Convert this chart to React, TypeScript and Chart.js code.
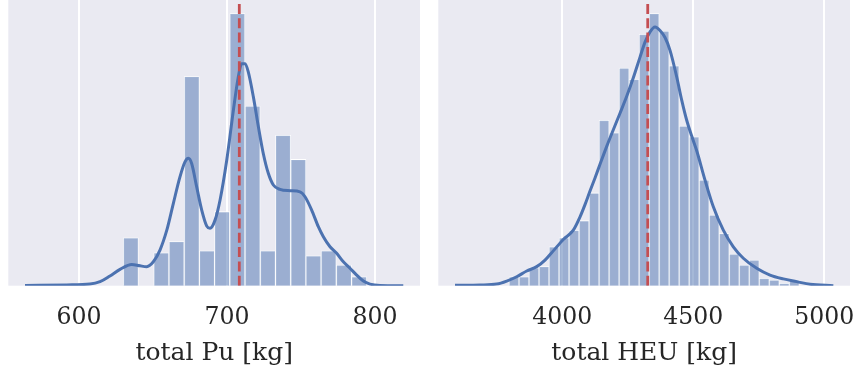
import React, { useEffect, useRef } from "react";
import { Chart, registerables } from "chart.js";

Chart.register(...registerables);

// ---------- Pu panel ----------
const puBinCenters = [635.0, 645.3, 655.6, 665.9, 676.2, 686.5, 696.7, 707.0, 717.3, 727.6, 737.9, 748.2, 758.4, 768.7, 779.0, 789.3];
const puHeights = [17.6, 0, 12.1, 16.2, 76.9, 12.8, 27.2, 100, 66.0, 12.8, 55.3, 46.4, 11.0, 12.8, 7.6, 3.3];
const puKdeX = [563.5, 591.7, 607.4, 614.2, 620.9, 627.7, 635.6, 641.2, 645.7, 650.2, 654.7, 659.3, 663.7, 668.2, 671.6, 673.9, 676.1, 679.5, 682.9, 686.3, 688.5, 691.9, 695.3, 699.8, 704.3, 707.6, 709.9, 712.2, 714.4, 717.8, 721.2, 724.5, 727.9, 731.3, 735.8, 742.6, 749.3, 752.7, 757.2, 761.7, 765.1, 769.6, 774.1, 778.6, 783.1, 787.6, 792.1, 796.6, 803.4, 819.1];
const puKdeY = [0.1, 0.3, 0.6, 1.5, 3.6, 6.0, 7.8, 7.3, 7.0, 8.8, 13.1, 20.4, 30.2, 40.0, 45.5, 46.8, 44.9, 36.3, 27.8, 21.9, 21.1, 24.1, 31.5, 46.1, 64.5, 76.7, 81.6, 81.6, 78.5, 69.4, 58.4, 48.6, 41.3, 37.0, 35.4, 34.9, 34.5, 32.7, 27.8, 21.7, 18.0, 14.3, 11.9, 8.8, 6.4, 3.9, 1.7, 0.6, 0.1, 0];
const puMean = 708.3;
const puTicks = [600, 700, 800];
const puRange = [552.2, 830.4];
const puLabel = "total Pu [kg]";

// ---------- HEU panel ----------
const heuBinCenters = [3815.7, 3853.9, 3892.1, 3930.3, 3968.5, 4006.7, 4044.9, 4083.1, 4121.3, 4159.5, 4197.7, 4235.9, 4274.1, 4312.3, 4350.5, 4388.7, 4426.9, 4465.1, 4503.3, 4541.5, 4579.7, 4617.9, 4656.1, 4694.3, 4732.5, 4770.7, 4808.9, 4847.1, 4885.3];
const heuHeights = [3.3, 3.3, 6.6, 7.0, 14.3, 17.6, 20.4, 23.9, 34.1, 60.8, 56.2, 80.0, 75.9, 92.4, 100, 93.6, 80.8, 58.7, 54.7, 38.8, 26.0, 19.2, 11.6, 7.6, 9.4, 2.7, 2.1, 0.9, 2.1];
const heuKdeX = [3590.4, 3685.9, 3749.6, 3787.8, 3825.9, 3864.1, 3902.3, 3934.0, 3965.6, 4003.8, 4042.0, 4067.6, 4086.6, 4105.7, 4124.8, 4143.9, 4169.5, 4194.7, 4220.2, 4245.8, 4271.0, 4296.6, 4315.7, 4334.7, 4353.8, 4372.9, 4392.0, 4411.1, 4436.7, 4455.7, 4474.8, 4493.9, 4513.0, 4544.7, 4576.4, 4614.5, 4652.7, 4690.9, 4742.0, 4792.8, 4843.6, 4894.7, 4945.5, 5034.4];
const heuKdeY = [0.15, 0.26, 0.6, 1.7, 3.3, 5.4, 7.0, 9.4, 12.8, 17.0, 20.4, 25.3, 29.8, 34.8, 39.6, 44.6, 51.2, 57.3, 63.4, 69.6, 76.4, 84.0, 89.5, 93.3, 95.1, 93.8, 91.2, 86.5, 76.7, 68.2, 60.8, 55.0, 49.6, 38.8, 29.0, 20.4, 14.3, 10.1, 6.4, 3.9, 2.5, 1.5, 0.5, 0];
const heuMean = 4326;
const heuTicks = [4000, 4500, 5000];
const heuRange = [3526.7, 5098];
const heuLabel = "total HEU [kg]";

const Y_MAX = 105;
const CANVAS_H = 374;
const PLOT_BOTTOM = 285.7;

const bgPlugin = {
  id: "axesBg",
  beforeDraw(chart: any) {
    const { ctx, chartArea: a } = chart;
    ctx.save();
    ctx.fillStyle = "#EAEAF2";
    ctx.fillRect(a.left, a.top, a.right - a.left, a.bottom - a.top);
    ctx.restore();
  },
};

type PanelProps = {
  left: number;
  width: number;
  padLeft: number;
  padRight: number;
  centers: number[];
  heights: number[];
  kdeX: number[];
  kdeY: number[];
  mean: number;
  ticks: number[];
  range: number[];
  label: string;
};

function Panel(p: PanelProps) {
  const ref = useRef<HTMLCanvasElement | null>(null);
  useEffect(() => {
    if (!ref.current) return;
    const font = { family: "'DejaVu Serif', serif" };
    const chart = new Chart(ref.current, {
      type: "line",
      data: {
        datasets: [
          {
            type: "line",
            data: [
              { x: p.mean, y: 0 },
              { x: p.mean, y: Y_MAX },
            ],
            borderColor: "#C44E52",
            borderWidth: 2.8,
            borderDash: [10, 4.3],
            pointRadius: 0,
            order: 0,
          } as any,
          {
            type: "line",
            data: p.kdeX.map((x, i) => ({ x, y: p.kdeY[i] })),
            borderColor: "#4C72B0",
            borderWidth: 3,
            pointRadius: 0,
            cubicInterpolationMode: "monotone",
            order: 1,
          } as any,
          {
            type: "bar",
            data: p.centers.map((x, i) => ({ x, y: p.heights[i] })),
            backgroundColor: "rgba(76,114,176,0.5)",
            borderColor: "#FFFFFF",
            borderWidth: 0.8,
            barPercentage: 1,
            categoryPercentage: 1,
            order: 2,
          } as any,
        ],
      },
      options: {
        animation: false,
        responsive: false,
        devicePixelRatio: 1,
        layout: { padding: { left: p.padLeft, right: p.padRight, top: 0, bottom: 0 } },
        plugins: { legend: { display: false }, tooltip: { enabled: false } },
        scales: {
          x: {
            type: "linear",
            min: p.range[0],
            max: p.range[1],
            offset: false,
            border: { display: false },
            grid: { color: "#FFFFFF", lineWidth: 2, drawTicks: false, offset: false },
            ticks: {
              padding: 18,
              color: "#262626",
              font: { ...font, size: 23.6 },
              maxRotation: 0,
              autoSkip: false,
              callback: (v: any) => String(v),
            },
            title: {
              display: true,
              text: p.label,
              color: "#262626",
              font: { ...font, size: 25 },
              padding: { top: 0, bottom: 5.6 },
            },
            afterBuildTicks: (s: any) => {
              s.ticks = p.ticks.map((v) => ({ value: v }));
            },
            afterFit: (s: any) => {
              s.height = CANVAS_H - PLOT_BOTTOM;
              s.paddingLeft = 0;
              s.paddingRight = 0;
            },
          } as any,
          y: { display: false, min: 0, max: Y_MAX },
        },
      },
      plugins: [bgPlugin],
    });
    return () => chart.destroy();
  }, []);
  return (
    <canvas
      ref={ref}
      width={p.width}
      height={CANVAS_H}
      style={{ position: "absolute", left: p.left, top: 0, width: p.width, height: CANVAS_H }}
    />
  );
}

export default function App() {
  return (
    <div style={{ position: "absolute", left: 0, top: 0, width: 855, height: 374, background: "#FFFFFF" }}>
      <Panel
        left={0}
        width={429}
        padLeft={8.3}
        padRight={9}
        centers={puBinCenters}
        heights={puHeights}
        kdeX={puKdeX}
        kdeY={puKdeY}
        mean={puMean}
        ticks={puTicks}
        range={puRange}
        label={puLabel}
      />
      <Panel
        left={429}
        width={426}
        padLeft={9.3}
        padRight={5}
        centers={heuBinCenters}
        heights={heuHeights}
        kdeX={heuKdeX}
        kdeY={heuKdeY}
        mean={heuMean}
        ticks={heuTicks}
        range={heuRange}
        label={heuLabel}
      />
    </div>
  );
}
